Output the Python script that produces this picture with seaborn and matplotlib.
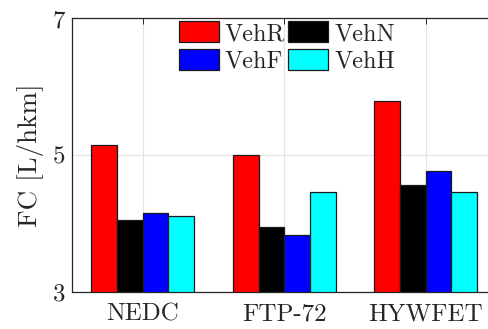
import matplotlib
matplotlib.use("Agg")
import matplotlib.pyplot as plt
import seaborn as sns
import pandas as pd

cycles = ["NEDC", "FTP-72", "HYWFET"]
vehicles = ["VehR", "VehN", "VehF", "VehH"]
veh_r = [5.15, 5.00, 5.79]
veh_n = [4.06, 3.95, 4.56]
veh_f = [4.16, 3.83, 4.77]
veh_h = [4.11, 4.46, 4.46]
colors = ["#ff0000", "#000000", "#0000ff", "#00ffff"]
y_ticks = [3, 5, 7]

rows = []
for veh, vals in zip(vehicles, [veh_r, veh_n, veh_f, veh_h]):
    for cyc, v in zip(cycles, vals):
        rows.append({"cycle": cyc, "vehicle": veh, "fc": v})
df = pd.DataFrame(rows)

sns.set_theme(style="white")
plt.rcParams["font.family"] = ["cmr10", "DejaVu Serif"]
plt.rcParams["axes.formatter.use_mathtext"] = True
plt.rcParams["mathtext.fontset"] = "cm"

fig = plt.figure(figsize=(4.88, 3.29), dpi=100)
ax = fig.add_axes([0.1475, 0.1125, 0.870, 0.8313])

sns.barplot(data=df, x="cycle", y="fc", hue="vehicle", order=cycles,
            hue_order=vehicles, palette=colors, width=0.725,
            edgecolor="#1a1a1a", linewidth=0.9, saturation=1, ax=ax)

ax.set_ylim(3, 7)
ax.set_xlim(-0.5, 2.5)
ax.set_yticks(y_ticks)
ax.set_yticklabels([str(t) for t in y_ticks])
ax.set_xlabel("")
ax.set_ylabel("FC [L/hkm]", fontsize=19.5, labelpad=6)
ax.tick_params(axis="both", labelsize=18, direction="in", length=4,
               color="#262626", top=True, right=True, width=0.7)
ax.tick_params(axis="x", pad=8)
ax.tick_params(axis="y", pad=5)
ax.grid(True, color="#e3e3e3", linewidth=0.8)
ax.set_axisbelow(True)
for s in ax.spines.values():
    s.set_color("#262626")
    s.set_linewidth(0.9)

# legend laid out row-wise: VehR VehN / VehF VehH
handles, labels = ax.get_legend_handles_labels()
order = [0, 2, 1, 3]
ax.legend([handles[i] for i in order], [labels[i] for i in order], ncol=2,
          loc="upper left",
          bbox_to_anchor=(0.366, 0.935), bbox_transform=fig.transFigure,
          frameon=False, fontsize=17.5, handlelength=1.65, handleheight=0.95,
          handletextpad=0.25, columnspacing=0.12, labelspacing=0.15,
          borderpad=0, borderaxespad=0)

fig.savefig("out.png", dpi=100)
